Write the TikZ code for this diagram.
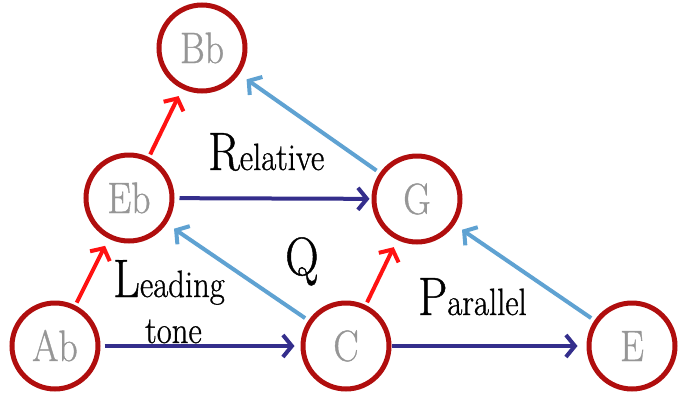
\documentclass[tikz,border=0pt]{standalone}
\usepackage{fontspec}
\setmainfont{Latin Modern Roman}[FakeStretch=0.86,FakeBold=0.8]
\usetikzlibrary{arrows.meta}
\definecolor{ringred}{RGB}{176,14,14}
\definecolor{labgray}{RGB}{150,150,150}
\definecolor{arrred}{RGB}{255,18,18}
\definecolor{arrlight}{RGB}{95,162,210}
\definecolor{arrdark}{RGB}{52,46,140}
\newcommand{\capl}[2]{{\fontsize{54}{54}\selectfont #1}{\fontsize{38}{38}\selectfont #2}}
\begin{document}
\begin{tikzpicture}[x=1pt,y=-1pt,
  key/.style={circle,draw=ringred,line width=5pt,minimum size=86pt,inner sep=0pt,
    text=labgray,font=\fontsize{44}{44}\selectfont,text height=30pt,text depth=0pt},
  conn/.style={line width=4pt,-{Straight Barb[length=9pt,width=22pt]}},
  redarr/.style={conn,draw=arrred,shorten <=3pt,shorten >=8pt},
  lightarr/.style={conn,draw=arrlight,shorten <=4pt,shorten >=9pt},
  darkarr/.style={conn,draw=arrdark},
  lab/.style={anchor=base west,inner sep=0pt,text=black},
  bigl/.style={font=\fontsize{54}{54}\selectfont},
]
\useasboundingbox (0,0) rectangle (680,394);
\node[key] (Bb) at (202,48) {Bb};
\node[key] (Eb) at (129,198) {Eb};
\node[key] (G) at (417,199) {G};
\node[key] (Ab) at (55,346) {Ab};
\node[key] (C) at (346,346) {C};
\node[key] (E) at (632,346) {E};
\draw[redarr] (Eb) -- (Bb);
\draw[redarr] (Ab) -- (Eb);
\draw[redarr] (C) -- (G);
\draw[lightarr] (G) -- (Bb);
\draw[lightarr] (C) -- (Eb);
\draw[lightarr] (E) -- (G);
\draw[darkarr,shorten <=5pt,shorten >=2pt] (Eb) -- (G);
\draw[darkarr,shorten <=4pt,shorten >=6pt] (Ab) -- (C);
\draw[darkarr,shorten <=0pt,shorten >=9pt] (C) -- (E);
\node[lab] (rel) at (208,170) {\capl{R}{elative}};
\node[lab,bigl] (q) at (285,275) {Q};
\node[lab] (lead) at (113,297) {\capl{L}{eading}};
\node[lab,font=\fontsize{38}{38}\selectfont] (tone) at (145,343) {tone};
\node[lab] (par) at (418,315) {\capl{P}{arallel}};
\end{tikzpicture}
\end{document}
